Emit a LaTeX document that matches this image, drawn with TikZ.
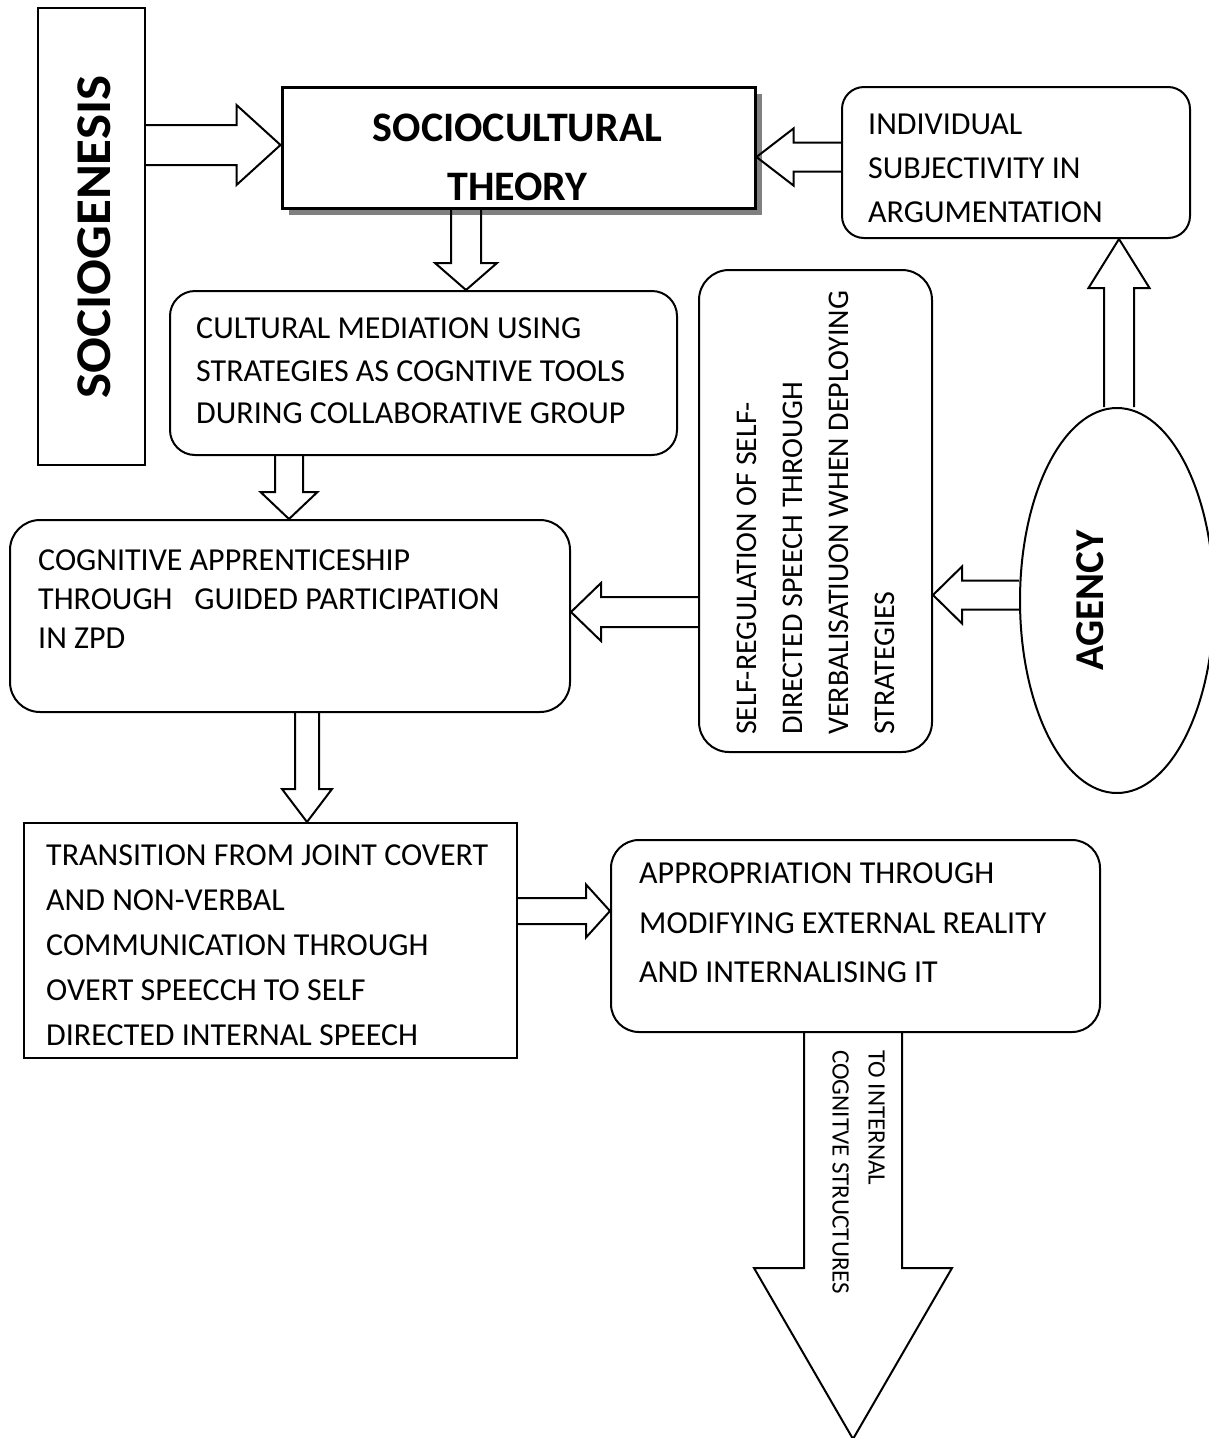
\documentclass[tikz,border=0pt]{standalone}
\usepackage{graphicx}
\usepackage{fontspec}
\setmainfont{Carlito}
\usetikzlibrary{calc,shapes.geometric,shadows}

% Hollow block arrow: #1 tail, #2 tip, #3 half shaft width, #4 half head width, #5 head length
\newcommand\blockarrow[5]{%
  \coordinate (ba-h) at ($(#2)!#5!(#1)$);
  \draw[arrowline]
    ($(#1)!#3!90:(#2)$) -- ($(ba-h)!#3!-90:(#1)$) -- ($(ba-h)!#4!-90:(#1)$)
    -- (#2) -- ($(ba-h)!#4!90:(#1)$) -- ($(ba-h)!#3!90:(#1)$) -- ($(#1)!#3!-90:(#2)$);
}

\tikzset{
  box/.style={draw, line width=2pt, inner sep=0pt, fill=white},
  rbox/.style={box, rounded corners=25pt},
  arrowline/.style={line width=2pt, line join=miter},
  body/.style={inner sep=0pt, anchor=north west, align=left,
               font={\fontsize{32}{#1}\selectfont}},
  bigbold/.style={inner sep=0pt, font={\bfseries\fontsize{41}{41}\selectfont}},
}

\begin{document}
\begin{tikzpicture}[x=1pt,y=-1pt]
\useasboundingbox (0,0) rectangle (1208,1438);

% boxes
\node[box, minimum width=107pt, minimum height=457pt] (sgen) at (91.5,236.5) {};
\node[box, line width=3pt, minimum width=473pt, minimum height=121pt,
      drop shadow={shadow xshift=7pt, shadow yshift=-7pt, fill=black!50, opacity=1}]
      (soc) at (518.5,147.5) {};
\node[rbox, rounded corners=22pt, minimum width=348pt, minimum height=151pt] (indiv) at (1016,162.5) {};
\node[rbox, minimum width=507pt, minimum height=164pt] (cult) at (423.5,373) {};
\node[rbox, rounded corners=30pt, minimum width=233pt, minimum height=482pt] (selfreg) at (815.5,511) {};
\node[draw, line width=2pt, ellipse, inner sep=0pt, minimum width=194pt, minimum height=385pt] (agency) at (1117,600.5) {};
\node[rbox, rounded corners=30pt, minimum width=560pt, minimum height=192pt] (cog) at (290,616) {};
\node[box, minimum width=493pt, minimum height=235pt] (trans) at (270.5,940.5) {};
\node[rbox, rounded corners=28pt, minimum width=489pt, minimum height=192pt] (appr) at (855.5,936) {};

% texts
\node[rotate=90, inner sep=0pt, font={\bfseries\fontsize{50}{50}\selectfont}]
      (sgenT) at (94,237) {\scalebox{1.06}[1]{SOCIOGENESIS}};
\node[inner sep=0pt, anchor=north, align=center, font={\bfseries\fontsize{42}{59}\selectfont}]
      (socT) at (517.5,113.5) {SOCIOCULTURAL\\THEORY};
\node[body=44] (indivT) at (868,113.8) {INDIVIDUAL\\SUBJECTIVITY IN\\ARGUMENTATION};
\node[body=42.5] (cultT) at (196,317.8) {CULTURAL MEDIATION USING\\STRATEGIES AS COGNTIVE TOOLS\\DURING COLLABORATIVE GROUP};
\node[body=39] (cogT) at (38,549.8) {COGNITIVE APPRENTICESHIP\\THROUGH\ \ \ GUIDED PARTICIPATION\\IN ZPD};
\node[body=45] (transT) at (46,844.8) {TRANSITION FROM JOINT COVERT\\AND NON-VERBAL\\COMMUNICATION THROUGH\\OVERT SPEECCH TO SELF\\DIRECTED INTERNAL SPEECH};
\node[body=49.5] (apprT) at (639,862.8) {APPROPRIATION THROUGH\\MODIFYING EXTERNAL REALITY\\AND INTERNALISING IT};
\node[rotate=90, inner sep=0pt, anchor=north west, align=left, font={\fontsize{30}{46}\selectfont}]
      (selfT) at (737,735) {SELF-REGULATION OF SELF-\\DIRECTED SPEECH THROUGH\\VERBALISATIUON WHEN DEPLOYING\\STRATEGIES};
\node[rotate=90, bigbold] (agencyT) at (1090,600.5) {AGENCY};

% connectors
\coordinate (a1p) at ($(soc.west)+(0,-2.5)$);
\coordinate (a1t) at (sgen.east |- a1p);
\blockarrow{a1t}{a1p}{20pt}{40pt}{44pt}

\coordinate (a2p) at ($(soc.east)+(0,9.5)$);
\coordinate (a2t) at (indiv.west |- a2p);
\blockarrow{a2t}{a2p}{14.5pt}{28.5pt}{37pt}

\coordinate (a3t) at ($(soc.south)+(-52.5,0)$);
\coordinate (a3p) at (a3t |- cult.north);
\blockarrow{a3t}{a3p}{15pt}{31pt}{27pt}

\coordinate (a4t) at ($(cult.south)+(-134.5,0)$);
\coordinate (a4p) at (a4t |- cog.north);
\blockarrow{a4t}{a4p}{14pt}{28.5pt}{27pt}

\coordinate (a5t) at ($(cog.south)+(17,0)$);
\coordinate (a5p) at (a5t |- trans.north);
\blockarrow{a5t}{a5p}{12pt}{25pt}{33pt}

\coordinate (a6t) at ($(trans.east)+(0,-29.5)$);
\coordinate (a6p) at (appr.west |- a6t);
\blockarrow{a6t}{a6p}{13pt}{26.5pt}{24pt}

\coordinate (a7t) at ($(appr.south)+(-2.5,0)$);
\coordinate (a7p) at ($(a7t)+(0,406)$);
\blockarrow{a7t}{a7p}{49pt}{99pt}{171pt}

\coordinate (a8t) at ($(selfreg.west)+(0,101)$);
\coordinate (a8p) at (cog.east |- a8t);
\blockarrow{a8t}{a8p}{15pt}{29pt}{30pt}

\coordinate (a9t) at ($(agency.west)+(0,-5.5)$);
\coordinate (a9p) at (selfreg.east |- a9t);
\blockarrow{a9t}{a9p}{14.5pt}{28.5pt}{29pt}

\coordinate (a10t) at ($(agency.north)+(2,0)$);
\coordinate (a10p) at (a10t |- indiv.south);
\blockarrow{a10t}{a10p}{15pt}{30.5pt}{49pt}

\node[rotate=-90, inner sep=0pt, anchor=north west, align=left, font={\fontsize{25}{36}\selectfont}]
      (downT) at (885,1050) {TO INTERNAL\\COGNITVE STRUCTURES};
\end{tikzpicture}
\end{document}
